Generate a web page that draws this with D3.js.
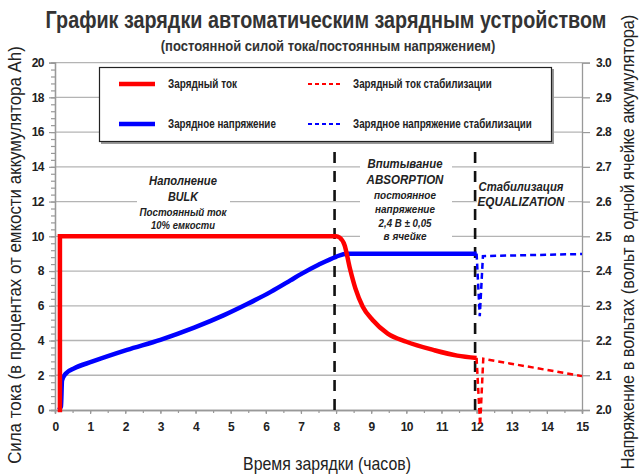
<!DOCTYPE html>
<html>
<head>
<meta charset="utf-8">
<script src="https://cdn.jsdelivr.net/npm/d3@7"></script>
<style>
  body { margin: 0; background: #fff; }
  svg { display: block; font-family: "Liberation Sans", Arial, sans-serif; }
</style>
</head>
<body>
<svg id="chart"></svg>
<script>
// Размер картинки
const width = 640, height = 475;

// Тексты
const title = "График зарядки автоматическим зарядным устройством";
const subtitle = "(постоянной силой тока/постоянным напряжением)";
const xTitle = "Время зарядки (часов)";
const yLeftTitle = "Сила тока (в процентах от емкости аккумулятора Ah)";
const yRightTitle = "Напряжение в вольтах (вольт в одной ячейке аккумулятора)";

// Тики осей
const xTicks = d3.range(0, 16);
const yLeftTicks = [0, 2, 4, 6, 8, 10, 12, 14, 16, 18, 20];
const yRightTicks = [2.0, 2.1, 2.2, 2.3, 2.4, 2.5, 2.6, 2.7, 2.8, 2.9, 3.0];

// Фазы (вертикальные пунктиры)
const phaseLines = [8, 12];

// Зарядный ток (%) — сплошная
const currentRise = [[0.14, 0], [0.14, 10]];
const currentMain = [[0.14, 10], [8.0, 10], [8.1, 9.93], [8.24, 9.5], [8.4, 8.1], [8.55, 7.0],
  [8.76, 5.95], [9.04, 5.18], [9.47, 4.4], [10.0, 3.93], [10.78, 3.45], [11.45, 3.13], [12.0, 3.0]];
// Зарядный ток стабилизации — пунктир
const currentEq = [[12.0, 3.0], [12.1, -0.9], [12.19, 2.95], [15.0, 1.95]];

// Зарядное напряжение (В) — сплошная
const voltMain = [[0.1, 2.0], [0.17, 2.01], [0.2, 2.085], [0.31, 2.105], [0.55, 2.12], [1.05, 2.139],
  [2.05, 2.173], [3.0, 2.202], [3.96, 2.237], [4.81, 2.273], [5.47, 2.305], [6.14, 2.34],
  [6.7, 2.373], [7.0, 2.391], [7.5, 2.418], [8.0, 2.441], [8.3, 2.45], [12.0, 2.45]];
// Зарядное напряжение стабилизации — пунктир
const voltEq = [[12.0, 2.45], [12.09, 2.27], [12.18, 2.443], [15.0, 2.449]];

// Легенда
const legendItems = [
  { label: "Зарядный ток", color: "#ff0000", dash: null, col: 0, row: 0, w: 69 },
  { label: "Зарядный ток стабилизации", color: "#ff0000", dash: "4,3", col: 1, row: 0, w: 139 },
  { label: "Зарядное напряжение", color: "#0000ff", dash: null, col: 0, row: 1, w: 108 },
  { label: "Зарядное напряжение стабилизации", color: "#0000ff", dash: "4,3", col: 1, row: 1, w: 179 }
];

// Подписи фаз: [текст, размер, ширина]
const bulkText = [["Наполнение", 13, 68], ["BULK", 13, 30], ["Постоянный ток", 11, 87], ["10% емкости", 11, 64]];
const absText = [["Впитывание", 13, 75], ["ABSORPTION", 13, 77], ["постоянное", 11, 62], ["напряжение", 11, 60],
  ["2,4 В ± 0,05", 11, 53], ["в ячейке", 11, 43]];
const eqText = [["Стабилизация", 13, 85], ["EQUALIZATION", 13, 87]];

const svg = d3.select('#chart').attr('width', width).attr('height', height);
const ink = "#222";

// Сжать текст по ширине (узкий шрифт как в оригинале)
function fitText(sel, tx, ty, w, rot) {
  const n = sel.node().getComputedTextLength();
  const s = Math.min(1, w / n);
  sel.attr('x', 0).attr('y', 0)
    .attr('transform', `translate(${tx},${ty})${rot ? ' rotate(-90)' : ''} scale(${s},1)`);
  return sel;
}

const x = d3.scaleLinear().domain([0, 15]).range([55, 582]);
const yL = d3.scaleLinear().domain([0, 20]).range([410, 62.6]);
const yR = d3.scaleLinear().domain([2, 3]).range([410, 62.6]);

// Сетка
svg.append('g')
  .selectAll('line')
  .data(yLeftTicks.filter(d => d > 0))
  .enter().append('line')
  .attr('x1', x(0)).attr('x2', x(15))
  .attr('y1', d => yL(d)).attr('y2', d => yL(d))
  .attr('stroke', '#b4b4b4').attr('stroke-width', 1.3);

// Оси
function styleAxis(g) {
  g.select('.domain').attr('stroke', '#999').attr('stroke-width', 1.3);
  g.selectAll('.tick line').attr('stroke', '#999').attr('stroke-width', 1.2);
  g.selectAll('text').attr('fill', ink).attr('font-size', 12)
    .attr('font-family', '"Liberation Sans", Arial, sans-serif').attr('font-weight', 'bold')
    .attr('letter-spacing', '-0.5');
}

// малые тики слева
svg.append('g').attr('transform', `translate(${x(0)},0)`)
  .call(d3.axisLeft(yL).tickValues(d3.range(0, 20.01, 0.4)).tickSize(4).tickFormat(''))
  .call(styleAxis);
svg.append('g').attr('transform', `translate(${x(0)},0)`)
  .call(d3.axisLeft(yL).tickValues(yLeftTicks).tickSize(6).tickPadding(5).tickFormat(d3.format('d')))
  .call(styleAxis);

svg.append('g').attr('transform', `translate(${x(15)},0)`)
  .call(d3.axisRight(yR).tickValues(yRightTicks).tickSize(8).tickPadding(6).tickFormat(d3.format('.1f')))
  .call(styleAxis);

svg.append('g').attr('transform', `translate(0,${yL(0)})`)
  .call(d3.axisBottom(x).tickValues(d3.range(0, 15.01, 0.5)).tickSize(3).tickFormat(''))
  .call(styleAxis);
svg.append('g').attr('transform', `translate(0,${yL(0)})`)
  .call(d3.axisBottom(x).tickValues(xTicks).tickSize(4).tickPadding(8).tickFormat(d3.format('d')))
  .call(styleAxis);

// Белые подложки под подписи фаз
const boxes = [[137, 170, 93, 62], [360, 152, 92, 91], [477, 176, 91, 32]];
svg.append('g').selectAll('rect').data(boxes).enter().append('rect')
  .attr('x', d => d[0]).attr('y', d => d[1]).attr('width', d => d[2]).attr('height', d => d[3])
  .attr('fill', '#fff');

// Вертикальные пунктиры фаз
svg.append('g').selectAll('line').data(phaseLines).enter().append('line')
  .attr('x1', d => x(d) - 1.5).attr('x2', d => x(d) - 1.5)
  .attr('y1', 152).attr('y2', yL(0))
  .attr('stroke', '#111').attr('stroke-width', 2.6).attr('stroke-dasharray', '11,8');

// Линии
const lineL = d3.line().x(d => x(d[0])).y(d => yL(d[1]));
const lineR = d3.line().x(d => x(d[0])).y(d => yR(d[1]));

svg.append('path').datum(voltMain)
  .attr('d', lineR.curve(d3.curveMonotoneX))
  .attr('fill', 'none').attr('stroke', '#0000ff').attr('stroke-width', 4.5);
svg.append('path')
  .attr('d', d3.line().x(d => x(d[0])).y(d => yR(d[1]))(voltEq))
  .attr('fill', 'none').attr('stroke', '#0000ff').attr('stroke-width', 2.5).attr('stroke-dasharray', '6,4');

svg.append('path')
  .attr('d', d3.line().x(d => x(d[0])).y(d => yL(d[1]))(currentRise))
  .attr('fill', 'none').attr('stroke', '#ff0000').attr('stroke-width', 4.5).attr('stroke-linecap', 'square');
svg.append('path').datum(currentMain)
  .attr('d', lineL.curve(d3.curveMonotoneX))
  .attr('fill', 'none').attr('stroke', '#ff0000').attr('stroke-width', 4.5);
svg.append('path')
  .attr('d', d3.line().x(d => x(d[0])).y(d => yL(d[1]))(currentEq))
  .attr('fill', 'none').attr('stroke', '#ff0000').attr('stroke-width', 2.5).attr('stroke-dasharray', '6,4');

// Подписи фаз
function phaseLabel(lines, cx, y0, steps) {
  const g = svg.append('g');
  let y = y0;
  lines.forEach((l, i) => {
    const t = g.append('text')
      .attr('text-anchor', 'middle').attr('font-size', l[1])
      .attr('font-style', 'italic').attr('font-weight', 'bold').attr('fill', ink)
      .text(l[0]);
    fitText(t, cx, y, l[2]);
    y += steps[i] || 0;
  });
}
phaseLabel(bulkText, 183, 185, [16, 15, 13]);
phaseLabel(absText, 405, 168, [16, 15, 14, 13.5, 13.5]);
phaseLabel(eqText, 521, 191, [15]);

// Легенда
const lg = svg.append('g');
lg.append('rect').attr('x', 101).attr('y', 69).attr('width', 453).attr('height', 75).attr('fill', '#999');
lg.append('rect').attr('x', 99.5).attr('y', 67.5).attr('width', 452).attr('height', 74)
  .attr('fill', '#fff').attr('stroke', '#222').attr('stroke-width', 1.2);
const colX = [119, 308], rowY = [84, 124];
legendItems.forEach(d => {
  const lx = colX[d.col], ly = rowY[d.row];
  lg.append('line').attr('x1', lx).attr('x2', lx + (d.dash ? 34 : 36)).attr('y1', ly).attr('y2', ly)
    .attr('stroke', d.color).attr('stroke-width', d.dash ? 2 : 4.5)
    .attr('stroke-dasharray', d.dash);
  const t = lg.append('text')
    .attr('font-size', 12).attr('font-weight', 'bold').attr('fill', ink).text(d.label);
  fitText(t, lx + (d.dash ? 45 : 49), ly + 4, d.w);
});

// Заголовки
fitText(svg.append('text').attr('text-anchor', 'middle')
  .attr('font-size', 23).attr('font-weight', 'bold').attr('fill', '#333').text(title), 326, 28, 561);
fitText(svg.append('text').attr('text-anchor', 'middle')
  .attr('font-size', 15.5).attr('font-weight', 'bold').attr('fill', '#333').text(subtitle), 328, 51, 335);
fitText(svg.append('text').attr('text-anchor', 'middle')
  .attr('font-size', 18).attr('fill', ink).text(xTitle), 327, 470, 168);
fitText(svg.append('text').attr('text-anchor', 'middle')
  .attr('font-size', 19).attr('fill', ink).text(yLeftTitle), 21, 255, 418, true);
fitText(svg.append('text').attr('text-anchor', 'middle')
  .attr('font-size', 18).attr('fill', ink).text(yRightTitle), 634, 242, 455, true);
</script>
</body>
</html>
